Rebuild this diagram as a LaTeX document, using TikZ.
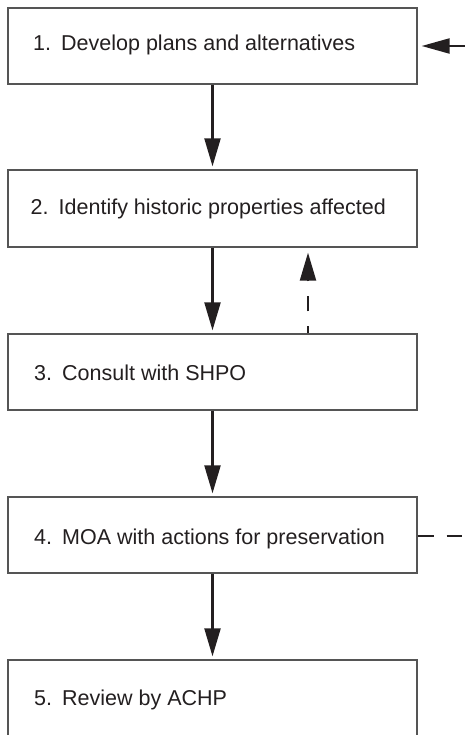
\documentclass[tikz,border=0pt]{standalone}
\usepackage{fontspec}
\setmainfont{Liberation Sans}
\usetikzlibrary{arrows.meta}
\definecolor{ink}{HTML}{231F20}
\definecolor{frame}{HTML}{555555}
\tikzset{
  stepbox/.style={draw=frame, line width=1.3bp, fill=white, minimum width=409bp, inner sep=0pt},
  steptext/.style={anchor=base west, inner sep=0pt, text=ink, font=\fontsize{21.5bp}{26bp}\selectfont},
  flow/.style={draw=ink, line width=2.2bp, -{Triangle[length=28bp, width=16bp]}},
  backflow/.style={flow, dash pattern=on 7bp off 15bp on 15bp off 15bp on 200bp},
  sideflow/.style={draw=ink, line width=2.2bp, -{Triangle[length=28bp, width=15bp]}},
  sidedash/.style={draw=ink, line width=2.2bp, dash pattern=on 16bp off 13bp on 40bp}
}
\newcommand{\stepnum}[1]{\makebox[28bp][l]{#1}}
\begin{document}
\begin{tikzpicture}[x=1bp, y=-1bp]
  \useasboundingbox (0,0) rectangle (465,735);

  % process boxes
  \node[stepbox, minimum height=76bp] (b1) at (212.5,46) {};
  \node[stepbox, minimum height=77bp] (b2) at (212.5,208.5) {};
  \node[stepbox, minimum height=76bp] (b3) at (212.5,372) {};
  \node[stepbox, minimum height=76bp] (b4) at (212.5,535) {};
  \node[stepbox, minimum height=78bp] (b5) at (212.5,699) {};

  % box captions
  \node[steptext] (t1) at (33,51)  {\stepnum{1.}Develop plans and alternatives};
  \node[steptext] (t2) at (30.5,214) {\stepnum{2.}Identify historic properties affected};
  \node[steptext] (t3) at (34,380) {\stepnum{3.}Consult with SHPO};
  \node[steptext] (t4) at (34,544) {\stepnum{4.}MOA with actions for preservation};
  \node[steptext] (t5) at (34,705) {\stepnum{5.}Review by ACHP};

  % main sequence
  \draw[flow, shorten >=3bp] (b1.south) -- (b2.north);
  \draw[flow, shorten >=3bp] (b2.south) -- (b3.north);
  \draw[flow, shorten >=3bp] (b3.south) -- (b4.north);
  \draw[flow, shorten >=3bp] (b4.south) -- (b5.north);

  % feedback from step 3 to step 2
  \coordinate (fb) at (308,0);
  \draw[backflow, shorten >=5bp] (b3.north -| fb) -- (b2.south -| fb);

  % incoming arrow at step 1 and outgoing dashes at step 4
  \coordinate (inlet) at (470,46);
  \draw[sideflow, shorten >=4bp] (inlet) -- (b1.east);
  \coordinate (outlet) at (462,536);
  \draw[sidedash] (b4.east |- outlet) -- (outlet);
\end{tikzpicture}
\end{document}
